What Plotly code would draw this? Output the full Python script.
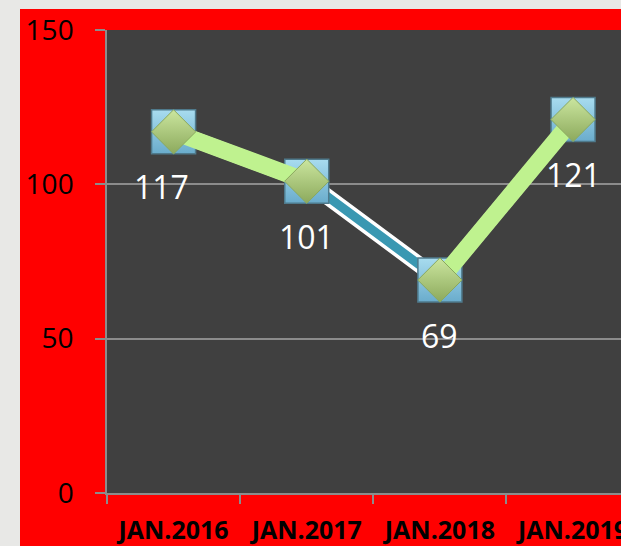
import plotly.graph_objects as go

categories = ["JAN.2016", "JAN.2017", "JAN.2018", "JAN.2019"]
values = [117, 101, 69, 121]
labels = ["117", "101", "69", "121"]
label_dx = [-12, 0, 0, 0]
green_segments = [(0, 1), (2, 3)]
y_ticks = [0, 50, 100, 150]

W, H = 621, 546
L, R, T, B = 107, 0, 30, 53
pw, ph = W - L - R, H - T - B

def px(x):
    return (x - L) / pw

def py(y):
    return (H - B - y) / ph

fig = go.Figure()

# blue series: white outline under a teal line, square markers
fig.add_trace(go.Scatter(x=categories, y=values, mode='lines',
                         line=dict(color='white', width=16), hoverinfo='skip'))
fig.add_trace(go.Scatter(x=categories, y=values, mode='lines+markers',
                         line=dict(color='#3a98b2', width=9),
                         marker=dict(symbol='square', size=44, color='#a8dcef',
                                     gradient=dict(type='vertical', color='#6aaccc'),
                                     line=dict(color='#4f7a8c', width=1.5))))

# green series: thick lime segments, diamond markers
for i, j in green_segments:
    fig.add_trace(go.Scatter(x=[categories[i], categories[j]], y=[values[i], values[j]],
                             mode='lines', line=dict(color='#bff28f', width=17)))
fig.add_trace(go.Scatter(x=categories, y=values, mode='markers',
                         marker=dict(symbol='diamond', size=34, color='#cbe69f',
                                     gradient=dict(type='vertical', color='#8ca95c'),
                                     line=dict(color='#8aa85e', width=1))))

for c, v, t, dx in zip(categories, values, labels, label_dx):
    fig.add_annotation(x=c, y=v, text=t, showarrow=False, yshift=-55, xshift=dx,
                       font=dict(family='Open Sans', size=32, color='white'))

# light backdrop strips outside the red panel
fig.add_shape(type='rect', xref='paper', yref='paper', layer='above',
              x0=px(0), x1=px(20), y0=py(H), y1=py(0),
              fillcolor='#e8e8e6', line_width=0)
fig.add_shape(type='rect', xref='paper', yref='paper', layer='above',
              x0=px(0), x1=1, y0=py(9), y1=py(0),
              fillcolor='#e8e8e6', line_width=0)

fig.update_layout(
    width=W, height=H,
    margin=dict(l=L, r=R, t=T, b=B),
    paper_bgcolor='#ff0000', plot_bgcolor='#404040',
    showlegend=False,
    xaxis=dict(type='category', range=[-0.5, 3.36], tickson='boundaries', automargin=False,
               ticks='outside', ticklen=9, tickcolor='#8c8c8c', tickwidth=1.5,
               showgrid=False, showline=True, linecolor='#8c8c8c', linewidth=1.5,
               tickfont=dict(family='Open Sans', size=25, color='black', weight='bold'),
               ticklabelstandoff=14),
    yaxis=dict(range=[0, 150], tickvals=y_ticks, ticks='outside', ticklen=10, automargin=False,
               tickcolor='#8c8c8c', tickwidth=1.5, gridcolor='#8c8c8c', gridwidth=1.5,
               showline=True, linecolor='#8c8c8c', linewidth=1.5, zeroline=False,
               tickfont=dict(family='Open Sans', size=28, color='black'),
               ticklabelstandoff=16),
)

fig.write_html("out.html", config={'displayModeBar': False},
               post_script="document.body.style.margin='0';document.body.style.overflow='hidden';")
